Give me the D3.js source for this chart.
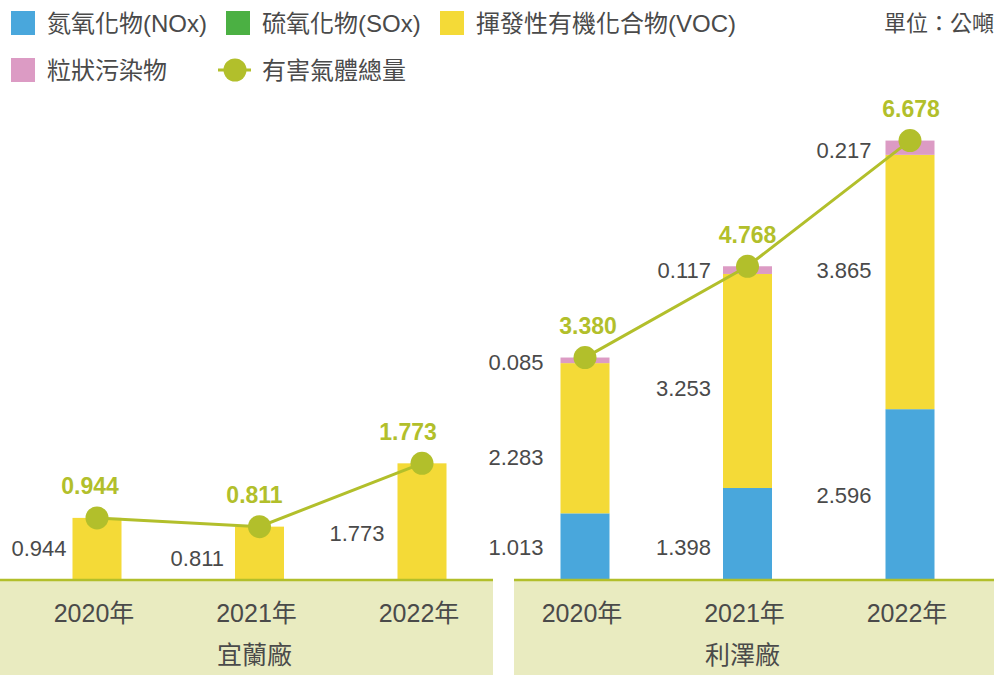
<!DOCTYPE html>
<html>
<head>
<meta charset="utf-8">
<script src="https://cdn.jsdelivr.net/npm/d3@7"></script>
<style>
  html, body { margin: 0; padding: 0; background: #fff; }
  svg { display: block; }
  text { font-family: "Liberation Sans", "Noto Sans CJK TC", sans-serif; }
</style>
</head>
<body>
<svg id="chart" width="996" height="675"></svg>
<script>
// ---- data (公噸) ----
const years = ["2020年", "2021年", "2022年"];
const series = ["氮氧化物(NOx)", "硫氧化物(SOx)", "揮發性有機化合物(VOC)", "粒狀污染物"];
const totalName = "有害氣體總量";
const unitText = "單位：公噸";

const plants = ["宜蘭廠", "利澤廠"];

const yilanNOx = [0, 0, 0];
const yilanSOx = [0, 0, 0];
const yilanVOC = [0.944, 0.811, 1.773];
const yilanPM  = [0, 0, 0];
const yilanTotal = [0.944, 0.811, 1.773];

const lizeNOx = [1.013, 1.398, 2.596];
const lizeSOx = [0, 0, 0];
const lizeVOC = [2.283, 3.253, 3.865];
const lizePM  = [0.085, 0.117, 0.217];
const lizeTotal = [3.380, 4.768, 6.678];

// ---- styling / layout ----
const colors = ["#49a7dc", "#4bb043", "#f4da37", "#dc9bc4"];
const lineColor = "#b2bf2b";
const bandColor = "#e9ebc0";
const textColor = "#4a4a4a";

const svg = d3.select("#chart");
const baseY = 580;
const y = d3.scaleLinear().domain([0, 7]).range([baseY, baseY - 7 * 65.8]);
const barW = 49;

const panels = [
  { name: plants[0], stacks: [yilanNOx, yilanSOx, yilanVOC, yilanPM], total: yilanTotal,
    band: [0, 493], xr: [97, 422] },
  { name: plants[1], stacks: [lizeNOx, lizeSOx, lizeVOC, lizePM], total: lizeTotal,
    band: [514, 994], xr: [585, 910] }
];

// vertical nudges for segment value labels, [panel][year][series]
const labelShift = [
  [[0,0,-1,0],[0,0,5,0],[0,0,11,0]],
  [[0,0,19,2],[13,0,7,0],[0,0,-12,2]]
];
// gap between a bar's left edge and its value labels
const labelGap = [
  [6, 11, 13],
  [17, 12, 14]
];
// horizontal nudges for the total labels above the markers
const totalShift = [
  [-7, -5, -14],
  [3, 0, 1]
];

panels.forEach((p, pi) => {
  const g = svg.append("g");
  const x = d3.scalePoint().domain(years).range(p.xr);

  // category band under the axis
  g.append("rect")
    .attr("x", p.band[0]).attr("y", baseY)
    .attr("width", p.band[1] - p.band[0]).attr("height", 675 - baseY)
    .attr("fill", bandColor);

  // stacked bars
  const rows = years.map((yr, i) => {
    const r = { year: yr };
    series.forEach((s, k) => { r[s] = p.stacks[k][i]; });
    return r;
  });
  const stacked = d3.stack().keys(series)(rows);

  stacked.forEach((layer, k) => {
    g.selectAll(null).data(layer).join("rect")
      .attr("x", d => x(d.data.year) - barW / 2)
      .attr("y", d => y(d[1]))
      .attr("width", barW)
      .attr("height", d => Math.max(0, y(d[0]) - y(d[1])))
      .attr("fill", colors[k]);
  });

  // segment value labels
  stacked.forEach((layer, k) => {
    layer.forEach((d, i) => {
      const v = d[1] - d[0];
      if (v <= 0) return;
      g.append("text")
        .attr("x", x(d.data.year) - barW / 2 - labelGap[pi][i])
        .attr("y", (y(d[0]) + y(d[1])) / 2 + labelShift[pi][i][k])
        .attr("dy", "0.36em")
        .attr("text-anchor", "end")
        .attr("font-size", 22)
        .attr("fill", textColor)
        .text(d3.format(".3f")(v));
    });
  });

  // axis baseline
  g.append("line")
    .attr("x1", p.band[0]).attr("x2", p.band[1])
    .attr("y1", baseY).attr("y2", baseY)
    .attr("stroke", lineColor).attr("stroke-width", 2.5);

  // year labels
  g.selectAll(null).data(years).join("text")
    .attr("x", d => x(d) - 3)
    .attr("y", 613).attr("dy", "0.36em")
    .attr("text-anchor", "middle")
    .attr("font-size", 25)
    .attr("fill", textColor)
    .text(d => d);

  // plant name
  g.append("text")
    .attr("x", x(years[1]) - 5).attr("y", 655).attr("dy", "0.36em")
    .attr("text-anchor", "middle")
    .attr("font-size", 25)
    .attr("fill", textColor)
    .text(p.name);

  // total line + markers
  const pts = years.map((yr, i) => [x(yr), y(p.total[i])]);
  g.append("path")
    .attr("d", d3.line()(pts))
    .attr("fill", "none")
    .attr("stroke", lineColor)
    .attr("stroke-width", 3);
  g.selectAll(null).data(pts).join("circle")
    .attr("cx", d => d[0]).attr("cy", d => d[1])
    .attr("r", 11.5)
    .attr("fill", lineColor);
  g.selectAll(null).data(p.total).join("text")
    .attr("x", (d, i) => x(years[i]) + totalShift[pi][i])
    .attr("y", d => y(d) - 32).attr("dy", "0.36em")
    .attr("text-anchor", "middle")
    .attr("font-size", 23)
    .attr("font-weight", "bold")
    .attr("fill", lineColor)
    .text(d => d3.format(".3f")(d));
});

// ---- legend ----
const legend = svg.append("g");
const legendPos = [[11, 23], [226, 23], [440, 23], [11, 70]];
series.forEach((s, k) => {
  const [lx, ly] = legendPos[k];
  legend.append("rect")
    .attr("x", lx).attr("y", ly - 12)
    .attr("width", 24).attr("height", 24)
    .attr("fill", colors[k]);
  legend.append("text")
    .attr("x", lx + 36).attr("y", ly).attr("dy", "0.36em")
    .attr("font-size", 24)
    .attr("fill", textColor)
    .text(s);
});
legend.append("line")
  .attr("x1", 218).attr("x2", 251).attr("y1", 70).attr("y2", 70)
  .attr("stroke", lineColor).attr("stroke-width", 3);
legend.append("circle")
  .attr("cx", 235).attr("cy", 70).attr("r", 11.5)
  .attr("fill", lineColor);
legend.append("text")
  .attr("x", 262).attr("y", 70).attr("dy", "0.36em")
  .attr("font-size", 24)
  .attr("fill", textColor)
  .text(totalName);
legend.append("text")
  .attr("x", 994).attr("y", 23).attr("dy", "0.36em")
  .attr("text-anchor", "end")
  .attr("font-size", 22)
  .attr("fill", textColor)
  .text(unitText);
</script>
</body>
</html>
